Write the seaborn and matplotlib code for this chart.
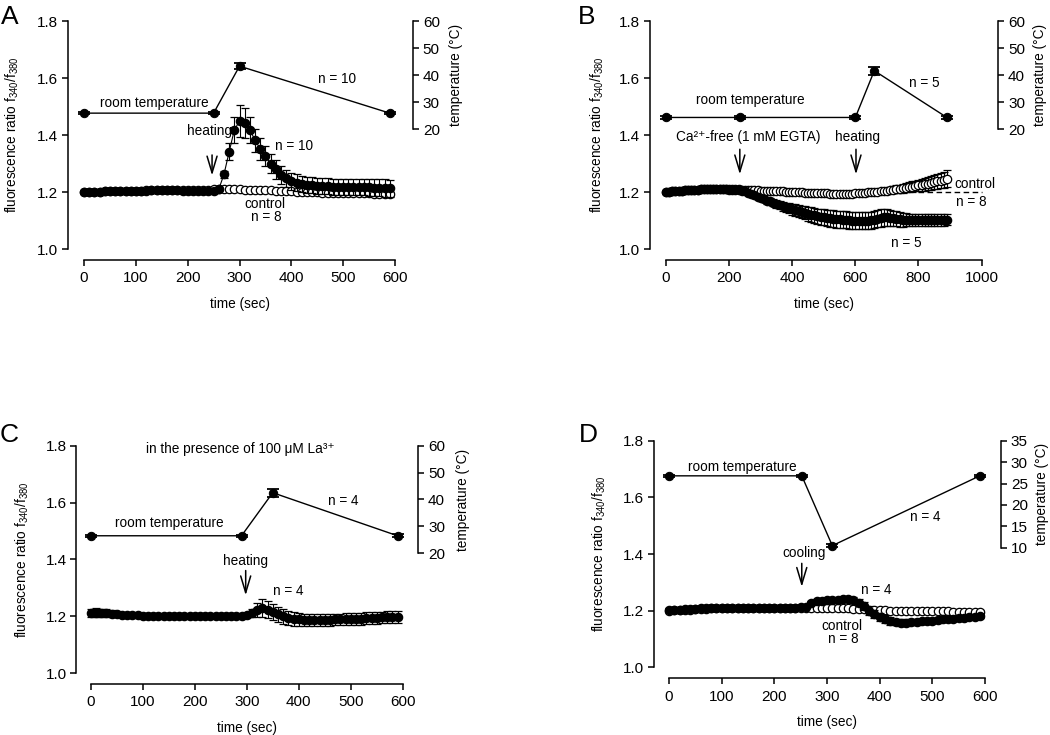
import numpy as np
import matplotlib
matplotlib.use("Agg")
import matplotlib.pyplot as plt
import seaborn as sns

# ---------------- data ----------------
# panel A: heating, t = 0..590 s every 10 s
time_a = np.arange(0, 600, 10)
heat_a = [1.200, 1.200, 1.201, 1.201, 1.202, 1.202, 1.203, 1.203, 1.204, 1.204,
          1.205, 1.205, 1.205, 1.206, 1.206, 1.206, 1.206, 1.206, 1.206, 1.205,
          1.205, 1.204, 1.204, 1.203, 1.203, 1.203, 1.210, 1.262, 1.341, 1.418,
          1.449, 1.443, 1.418, 1.382, 1.351, 1.326, 1.300, 1.280, 1.260, 1.248,
          1.238, 1.232, 1.228, 1.225, 1.223, 1.222, 1.221, 1.220, 1.219, 1.219,
          1.218, 1.218, 1.217, 1.217, 1.216, 1.216, 1.215, 1.215, 1.214, 1.213]
heat_a_err = [0.004, 0.004, 0.004, 0.004, 0.004, 0.005, 0.005, 0.005, 0.005, 0.005,
              0.005, 0.005, 0.005, 0.005, 0.005, 0.005, 0.005, 0.005, 0.005, 0.005,
              0.005, 0.005, 0.005, 0.005, 0.005, 0.005, 0.006, 0.012, 0.030, 0.045,
              0.055, 0.053, 0.046, 0.040, 0.038, 0.036, 0.034, 0.033, 0.032, 0.031,
              0.030, 0.030, 0.029, 0.029, 0.028, 0.028, 0.028, 0.028, 0.028, 0.028,
              0.028, 0.028, 0.028, 0.028, 0.028, 0.029, 0.029, 0.029, 0.030, 0.030]
ctrl_a = [1.200, 1.200, 1.201, 1.201, 1.202, 1.202, 1.203, 1.203, 1.204, 1.204,
          1.205, 1.205, 1.206, 1.206, 1.207, 1.207, 1.207, 1.208, 1.208, 1.208,
          1.208, 1.208, 1.208, 1.208, 1.208, 1.209, 1.209, 1.209, 1.209, 1.209,
          1.209, 1.208, 1.208, 1.208, 1.207, 1.207, 1.206, 1.205, 1.204, 1.203,
          1.202, 1.201, 1.200, 1.200, 1.199, 1.199, 1.198, 1.198, 1.197, 1.197,
          1.196, 1.196, 1.196, 1.195, 1.195, 1.195, 1.194, 1.194, 1.194, 1.193]
ctrl_a_err = [0.004, 0.004, 0.004, 0.004, 0.004, 0.004, 0.004, 0.004, 0.004, 0.004,
              0.004, 0.004, 0.004, 0.004, 0.004, 0.004, 0.004, 0.004, 0.004, 0.004,
              0.004, 0.004, 0.004, 0.004, 0.004, 0.004, 0.005, 0.005, 0.005, 0.005,
              0.005, 0.005, 0.005, 0.005, 0.005, 0.005, 0.005, 0.005, 0.005, 0.005,
              0.006, 0.006, 0.006, 0.006, 0.006, 0.006, 0.006, 0.006, 0.006, 0.006,
              0.006, 0.006, 0.006, 0.006, 0.006, 0.006, 0.006, 0.006, 0.006, 0.006]
temp_a_t = [0, 250, 300, 590]
temp_a = [25.9, 25.9, 43.3, 25.9]
temp_a_err = [0.4, 0.4, 1.2, 0.5]

# panel B: Ca2+-free, t = 0..890 s every 10 s
time_b = np.arange(0, 900, 10)
egta_b = [1.200, 1.201, 1.202, 1.203, 1.204, 1.205, 1.206, 1.207, 1.207, 1.208,
          1.208, 1.209, 1.209, 1.209, 1.209, 1.209, 1.209, 1.209, 1.209, 1.209,
          1.208, 1.208, 1.207, 1.206, 1.205, 1.203, 1.198, 1.193, 1.188, 1.183,
          1.178, 1.174, 1.170, 1.167, 1.163, 1.158, 1.154, 1.150, 1.146, 1.143,
          1.140, 1.137, 1.133, 1.130, 1.127, 1.124, 1.121, 1.118, 1.115, 1.113,
          1.111, 1.109, 1.108, 1.106, 1.105, 1.104, 1.103, 1.102, 1.101, 1.100,
          1.099, 1.099, 1.099, 1.099, 1.100, 1.101, 1.103, 1.106, 1.109, 1.111,
          1.111, 1.110, 1.108, 1.106, 1.104, 1.103, 1.103, 1.102, 1.102, 1.102,
          1.102, 1.102, 1.102, 1.102, 1.102, 1.102, 1.102, 1.102, 1.102, 1.103]
egta_b_err = [0.004, 0.004, 0.004, 0.004, 0.004, 0.004, 0.004, 0.004, 0.004, 0.004,
              0.004, 0.004, 0.004, 0.004, 0.004, 0.004, 0.004, 0.004, 0.004, 0.004,
              0.004, 0.004, 0.004, 0.004, 0.004, 0.004, 0.005, 0.006, 0.007, 0.008,
              0.009, 0.010, 0.011, 0.012, 0.013, 0.014, 0.015, 0.016, 0.017, 0.018,
              0.019, 0.020, 0.021, 0.022, 0.023, 0.024, 0.025, 0.026, 0.027, 0.028,
              0.028, 0.029, 0.029, 0.030, 0.030, 0.030, 0.030, 0.030, 0.030, 0.030,
              0.030, 0.030, 0.030, 0.030, 0.030, 0.030, 0.030, 0.030, 0.030, 0.030,
              0.029, 0.028, 0.027, 0.026, 0.025, 0.024, 0.023, 0.022, 0.022, 0.021,
              0.021, 0.020, 0.020, 0.020, 0.020, 0.020, 0.020, 0.020, 0.020, 0.020]
open_b = [1.200, 1.201, 1.202, 1.203, 1.204, 1.205, 1.206, 1.207, 1.207, 1.208,
          1.208, 1.209, 1.209, 1.209, 1.209, 1.209, 1.209, 1.209, 1.209, 1.209,
          1.209, 1.209, 1.209, 1.209, 1.208, 1.208, 1.207, 1.207, 1.206, 1.206,
          1.205, 1.205, 1.204, 1.204, 1.203, 1.203, 1.202, 1.202, 1.201, 1.201,
          1.200, 1.200, 1.199, 1.199, 1.198, 1.198, 1.197, 1.197, 1.196, 1.196,
          1.195, 1.195, 1.194, 1.194, 1.193, 1.193, 1.193, 1.192, 1.192, 1.192,
          1.196, 1.197, 1.198, 1.198, 1.199, 1.199, 1.200, 1.201, 1.202, 1.203,
          1.205, 1.207, 1.208, 1.210, 1.211, 1.213, 1.215, 1.217, 1.219, 1.221,
          1.223, 1.225, 1.227, 1.229, 1.232, 1.234, 1.237, 1.240, 1.243, 1.246]
open_b_err = [0.004, 0.004, 0.004, 0.004, 0.004, 0.004, 0.004, 0.004, 0.004, 0.004,
              0.004, 0.004, 0.004, 0.004, 0.004, 0.004, 0.004, 0.004, 0.004, 0.004,
              0.004, 0.004, 0.004, 0.004, 0.004, 0.004, 0.004, 0.004, 0.004, 0.004,
              0.004, 0.004, 0.004, 0.004, 0.004, 0.004, 0.004, 0.004, 0.004, 0.004,
              0.004, 0.004, 0.004, 0.004, 0.004, 0.004, 0.004, 0.004, 0.004, 0.004,
              0.004, 0.004, 0.004, 0.004, 0.004, 0.004, 0.004, 0.004, 0.004, 0.004,
              0.005, 0.005, 0.006, 0.006, 0.007, 0.007, 0.008, 0.008, 0.009, 0.009,
              0.010, 0.011, 0.012, 0.013, 0.014, 0.015, 0.016, 0.017, 0.018, 0.019,
              0.020, 0.021, 0.022, 0.023, 0.024, 0.025, 0.026, 0.027, 0.028, 0.030]
ctrl_b_level_t = [800, 1000]
ctrl_b_level = [1.2, 1.2]
temp_b_t = [0, 235, 600, 660, 890]
temp_b = [24.3, 24.3, 24.3, 41.6, 24.3]
temp_b_err = [0.5, 0.5, 0.5, 1.5, 0.5]

# panel C: heating with 100 uM La3+
time_c = np.arange(0, 600, 10)
la_c = [1.212, 1.213, 1.213, 1.212, 1.210, 1.207, 1.205, 1.204, 1.203, 1.203,
        1.202, 1.202, 1.202, 1.202, 1.202, 1.201, 1.201, 1.201, 1.201, 1.201,
        1.201, 1.201, 1.201, 1.201, 1.201, 1.201, 1.202, 1.202, 1.202, 1.202,
        1.204, 1.212, 1.222, 1.228, 1.224, 1.215, 1.207, 1.200, 1.195, 1.191,
        1.189, 1.188, 1.187, 1.187, 1.187, 1.188, 1.188, 1.189, 1.189, 1.190,
        1.190, 1.191, 1.192, 1.193, 1.194, 1.195, 1.196, 1.197, 1.198, 1.199]
la_c_err = [0.015, 0.015, 0.014, 0.013, 0.011, 0.009, 0.007, 0.006, 0.005, 0.005,
            0.004, 0.004, 0.004, 0.004, 0.004, 0.004, 0.004, 0.004, 0.004, 0.004,
            0.004, 0.004, 0.004, 0.004, 0.004, 0.004, 0.004, 0.004, 0.004, 0.004,
            0.006, 0.015, 0.025, 0.032, 0.030, 0.028, 0.027, 0.026, 0.025, 0.024,
            0.023, 0.022, 0.022, 0.021, 0.021, 0.021, 0.021, 0.021, 0.021, 0.021,
            0.021, 0.021, 0.021, 0.021, 0.021, 0.021, 0.021, 0.021, 0.021, 0.021]
temp_c_t = [0, 290, 350, 590]
temp_c = [26.5, 26.5, 42.5, 26.5]
temp_c_err = [0.4, 0.4, 1.5, 0.5]

# panel D: cooling
time_d = np.arange(0, 600, 10)
cool_d = [1.203, 1.203, 1.204, 1.205, 1.206, 1.207, 1.208, 1.209, 1.209, 1.210,
          1.210, 1.210, 1.211, 1.211, 1.211, 1.211, 1.211, 1.211, 1.211, 1.211,
          1.211, 1.211, 1.211, 1.211, 1.211, 1.212, 1.214, 1.226, 1.233, 1.235,
          1.236, 1.236, 1.238, 1.240, 1.241, 1.238, 1.228, 1.215, 1.200, 1.188,
          1.178, 1.170, 1.164, 1.160, 1.158, 1.158, 1.159, 1.160, 1.162, 1.163,
          1.165, 1.167, 1.169, 1.170, 1.172, 1.174, 1.175, 1.177, 1.178, 1.180]
cool_d_err = [0.005, 0.005, 0.005, 0.005, 0.005, 0.005, 0.005, 0.005, 0.005, 0.005,
              0.005, 0.005, 0.005, 0.005, 0.005, 0.005, 0.005, 0.005, 0.005, 0.005,
              0.005, 0.005, 0.005, 0.005, 0.005, 0.005, 0.006, 0.007, 0.008, 0.008,
              0.008, 0.008, 0.008, 0.008, 0.008, 0.009, 0.012, 0.014, 0.015, 0.015,
              0.015, 0.014, 0.013, 0.012, 0.012, 0.011, 0.011, 0.010, 0.010, 0.010,
              0.009, 0.009, 0.009, 0.008, 0.008, 0.008, 0.008, 0.008, 0.007, 0.007]
ctrl_d = [1.200, 1.201, 1.202, 1.203, 1.204, 1.205, 1.206, 1.207, 1.208, 1.208,
          1.209, 1.209, 1.209, 1.209, 1.209, 1.209, 1.209, 1.209, 1.209, 1.209,
          1.209, 1.209, 1.209, 1.209, 1.209, 1.209, 1.209, 1.209, 1.208, 1.208,
          1.208, 1.208, 1.208, 1.208, 1.208, 1.207, 1.206, 1.205, 1.204, 1.203,
          1.202, 1.201, 1.200, 1.200, 1.200, 1.200, 1.199, 1.199, 1.199, 1.199,
          1.198, 1.198, 1.198, 1.198, 1.197, 1.197, 1.197, 1.197, 1.196, 1.196]
ctrl_d_err = [0.004, 0.004, 0.004, 0.004, 0.004, 0.004, 0.004, 0.004, 0.004, 0.004,
              0.004, 0.004, 0.004, 0.004, 0.004, 0.004, 0.004, 0.004, 0.004, 0.004,
              0.004, 0.004, 0.004, 0.004, 0.004, 0.004, 0.005, 0.005, 0.005, 0.005,
              0.005, 0.005, 0.005, 0.005, 0.005, 0.005, 0.005, 0.005, 0.005, 0.005,
              0.006, 0.006, 0.006, 0.006, 0.006, 0.006, 0.006, 0.006, 0.006, 0.006,
              0.006, 0.006, 0.006, 0.006, 0.006, 0.006, 0.006, 0.006, 0.006, 0.006]
temp_d_t = [0, 252, 310, 590]
temp_d = [26.8, 26.8, 10.5, 26.8]
temp_d_err = [0.3, 0.3, 0.3, 0.3]

ratio_ticks = [1.0, 1.2, 1.4, 1.6, 1.8]

# ---------------- style ----------------
sns.set_theme(style="ticks", rc={
    "axes.linewidth": 1.1,
    "axes.edgecolor": "black", "axes.labelcolor": "black", "text.color": "black",
    "xtick.color": "black", "ytick.color": "black",
    "xtick.major.width": 1.1, "ytick.major.width": 1.1,
    "xtick.major.size": 4, "ytick.major.size": 4,
    "xtick.labelsize": 11, "ytick.labelsize": 11,
    "axes.labelsize": 9.8,
})
plt.rcParams["font.family"] = ["Liberation Sans", "DejaVu Sans"]
plt.rcParams["mathtext.fontset"] = "custom"
plt.rcParams["mathtext.rm"] = "Liberation Sans"
plt.rcParams["mathtext.it"] = "Liberation Sans:italic"
plt.rcParams["mathtext.bf"] = "Liberation Sans:bold"

YLABEL = r"fluorescence ratio f$_{\mathit{340}}$/f$_{\mathit{380}}$"
TXT = 9.8


def setup_panel(fig, rect, xlim, xticks, xbound, temp_lim, temp_ticks, letter, letter_xy,
                ylab_x, tlab_x):
    ax = fig.add_axes(rect)
    ax.set_xlim(*xlim)
    ax.set_ylim(1.0, 1.8)
    ax.set_yticks(ratio_ticks)
    ax.set_yticklabels([f"{v:.1f}" for v in ratio_ticks])
    ax.set_xticks(xticks)
    sns.despine(ax=ax)
    ax.spines["bottom"].set_position(("outward", 8))
    ax.spines["bottom"].set_bounds(*xbound)
    ax.set_xlabel("time (sec)")
    ax.xaxis.set_label_coords(0.5 * (xbound[0] + xbound[1] - 2 * xlim[0]) / (xlim[1] - xlim[0]), -0.21)
    ax.set_ylabel(YLABEL)
    ax.yaxis.set_label_coords(ylab_x, 0.5)
    ax.tick_params(axis="y", pad=3)
    ax.tick_params(axis="x", pad=4)

    tax = ax.twinx()
    tax.set_ylim(*temp_lim)
    tax.set_yticks(temp_ticks)
    for s in ("left", "top", "bottom"):
        tax.spines[s].set_visible(False)
    tax.spines["right"].set_bounds(temp_ticks[0], temp_ticks[-1])
    tax.set_ylabel("temperature (°C)")
    tax.yaxis.set_label_coords(tlab_x, 1 - 0.5 * (temp_lim[1] - temp_ticks[0]) / (temp_lim[1] - temp_lim[0]))
    tax.tick_params(axis="y", pad=3)

    fig.text(letter_xy[0], letter_xy[1], letter, fontsize=19, ha="center", va="center")
    return ax, tax


def trace(ax, t, v, err, filled, z):
    ax.errorbar(t, v, yerr=err, fmt="-o", color="black", lw=0.8, ms=6.0,
                mfc="black" if filled else "white", mec="black", mew=0.9,
                ecolor="black", elinewidth=0.8, capsize=2.6, capthick=0.8, zorder=z)


def temperature(tax, t, v, err):
    sns.lineplot(x=t, y=v, ax=tax, color="black", lw=1.0, marker="o", ms=6,
                 mec="black", legend=False)
    tax.errorbar(t, v, yerr=err, fmt="none", ecolor="black", elinewidth=1.0,
                 capsize=4, capthick=1.3)


def arrow(ax, x, y0, y1):
    ax.annotate("", xy=(x, y1), xytext=(x, y0),
                arrowprops=dict(arrowstyle="->,head_length=1.0,head_width=0.3",
                                lw=1.1, color="black", shrinkA=0, shrinkB=0))


def label(ax, x, y, s):
    ax.text(x, y, s, fontsize=TXT, ha="center", va="center")


fig = plt.figure(figsize=(10.5, 7.35), dpi=100)

# ---- A ----
ax, tax = setup_panel(fig, [0.0648, 0.6612, 0.3286, 0.3102], (-31, 635),
                      range(0, 700, 100), (0, 600), (-24.4, 60), [20, 30, 40, 50, 60],
                      "A", (0.009, 0.977), -0.136, 1.104)
trace(ax, time_a, ctrl_a, ctrl_a_err, False, 3)
trace(ax, time_a, heat_a, heat_a_err, True, 4)
temperature(tax, temp_a_t, temp_a, temp_a_err)
label(ax, 135, 1.512, "room temperature")
label(ax, 488, 1.597, "n = 10")
label(ax, 243, 1.414, "heating")
arrow(ax, 247, 1.330, 1.258)
label(ax, 405, 1.361, "n = 10")
label(ax, 348, 1.158, "control")
label(ax, 351, 1.113, "n = 8")

# ---- B ----
ax, tax = setup_panel(fig, [0.619, 0.6612, 0.3317, 0.3102], (-50.7, 1052.6),
                      range(0, 1200, 200), (0, 1000), (-24.4, 60), [20, 30, 40, 50, 60],
                      "B", (0.559, 0.977), -0.126, 1.10)
trace(ax, time_b, open_b, open_b_err, False, 3)
trace(ax, time_b, egta_b, egta_b_err, True, 4)
ax.plot(ctrl_b_level_t, ctrl_b_level, ls=(0, (4, 2.5)), color="black", lw=1.0, zorder=2)
temperature(tax, temp_b_t, temp_b, temp_b_err)
label(ax, 266, 1.523, "room temperature")
label(ax, 261, 1.392, "Ca²⁺-free (1 mM EGTA)")
arrow(ax, 234, 1.350, 1.262)
label(ax, 607, 1.394, "heating")
arrow(ax, 602, 1.350, 1.262)
label(ax, 820, 1.581, "n = 5")
label(ax, 760, 1.022, "n = 5")
label(ax, 979, 1.228, "control")
label(ax, 968, 1.166, "n = 8")

# ---- C ----
ax, tax = setup_panel(fig, [0.0727, 0.0840, 0.3257, 0.3097], (-27.7, 630),
                      range(0, 700, 100), (0, 600), (-24.6, 60), [20, 30, 40, 50, 60],
                      "C", (0.009, 0.408), -0.132, 1.109)
trace(ax, time_c, la_c, la_c_err, True, 4)
temperature(tax, temp_c_t, temp_c, temp_c_err)
label(ax, 287, 1.787, "in the presence of 100 μM La³⁺")
label(ax, 152, 1.527, "room temperature")
label(ax, 486, 1.607, "n = 4")
label(ax, 298, 1.396, "heating")
arrow(ax, 298, 1.361, 1.274)
label(ax, 380, 1.289, "n = 4")

# ---- D ----
ax, tax = setup_panel(fig, [0.6229, 0.0921, 0.3305, 0.3083], (-28.5, 630.4),
                      range(0, 700, 100), (0, 600), (-17.9, 35), [10, 15, 20, 25, 30, 35],
                      "D", (0.560, 0.408), -0.133, 1.098)
trace(ax, time_d, ctrl_d, ctrl_d_err, False, 3)
trace(ax, time_d, cool_d, cool_d_err, True, 4)
temperature(tax, temp_d_t, temp_d, temp_d_err)
label(ax, 139, 1.708, "room temperature")
label(ax, 486, 1.532, "n = 4")
label(ax, 256, 1.403, "cooling")
arrow(ax, 252, 1.367, 1.284)
label(ax, 393, 1.273, "n = 4")
label(ax, 328, 1.146, "control")
label(ax, 331, 1.101, "n = 8")

fig.savefig("out.png", dpi=100)
